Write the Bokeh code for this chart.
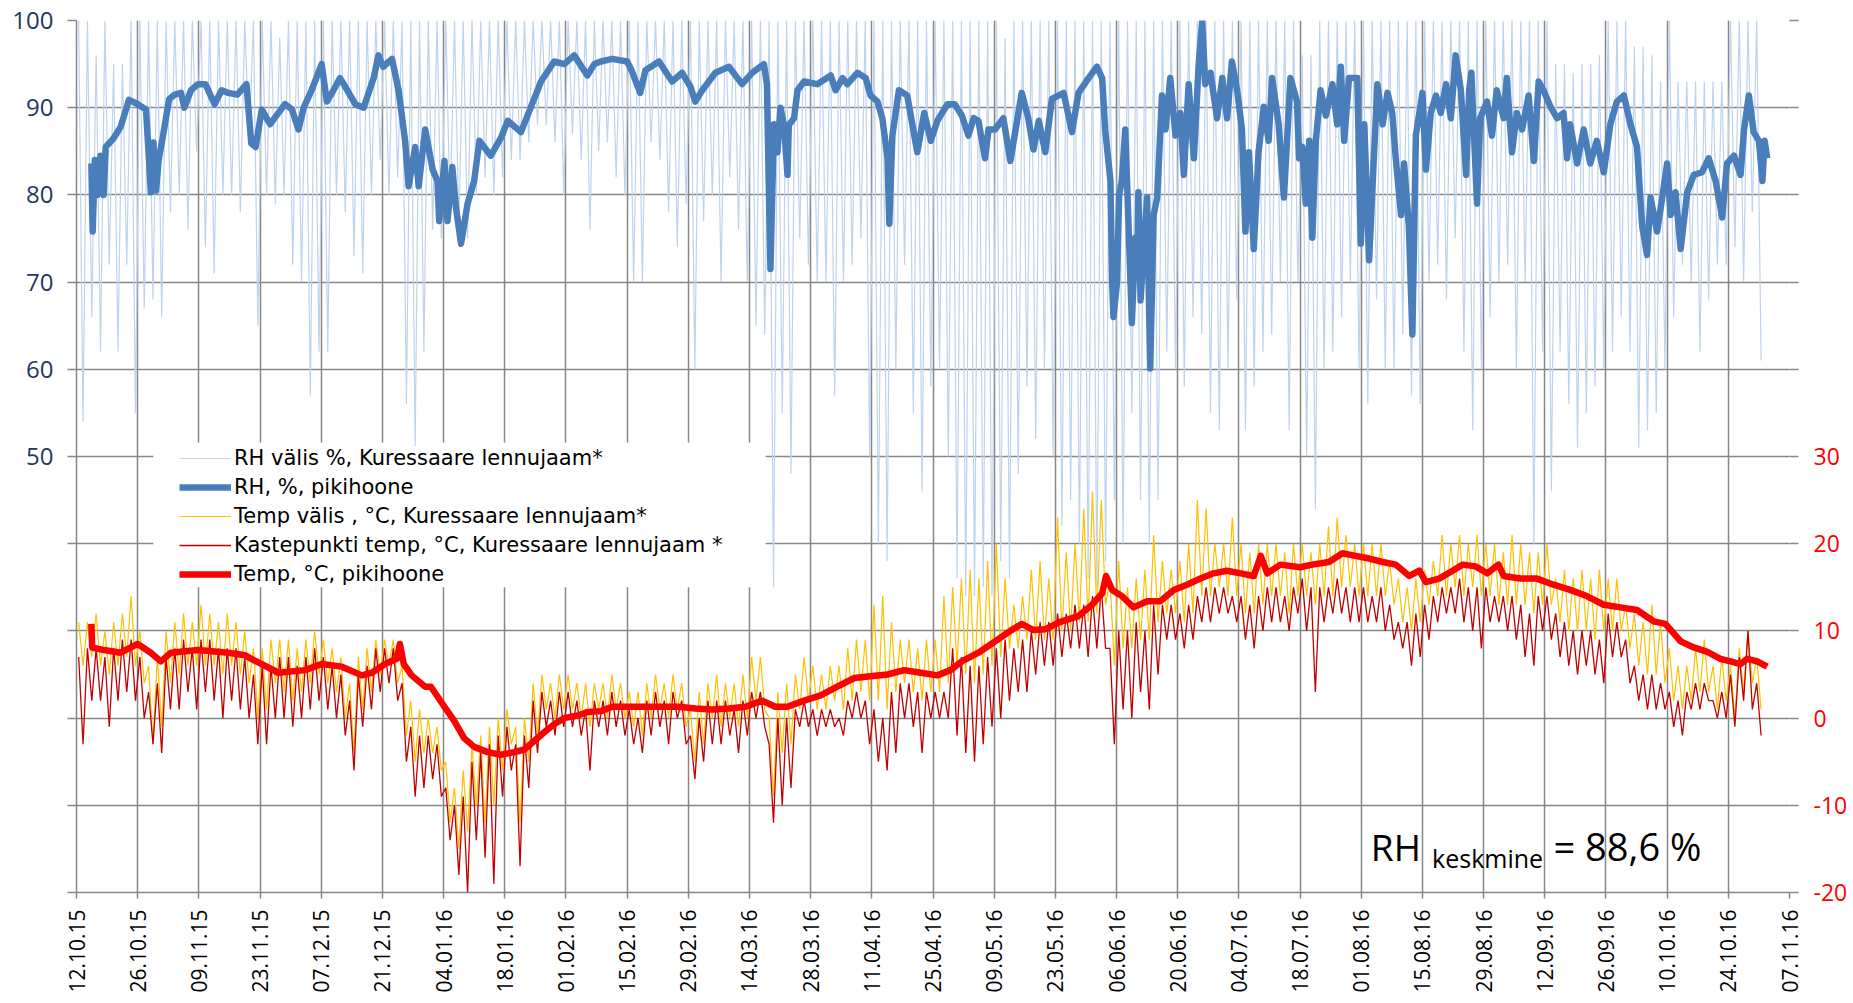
import math
from bokeh.plotting import figure
from bokeh.models import (Range1d, LinearAxis, FixedTicker, Legend, LegendItem,
                          Label, BoxAnnotation)
from bokeh.embed import file_html
from bokeh.resources import INLINE

# ---------------- data (x = days since 12.10.2015) ----------------
tick_days = [0, 14, 28, 42, 56, 70, 84, 98, 112, 126, 140, 154, 168, 182, 196,
             210, 224, 238, 252, 266, 280, 294, 308, 322, 336, 350, 364, 378, 392]
tick_labels = ["12.10.15", "26.10.15", "09.11.15", "23.11.15", "07.12.15", "21.12.15",
               "04.01.16", "18.01.16", "01.02.16", "15.02.16", "29.02.16", "14.03.16",
               "28.03.16", "11.04.16", "25.04.16", "09.05.16", "23.05.16", "06.06.16",
               "20.06.16", "04.07.16", "18.07.16", "01.08.16", "15.08.16", "29.08.16",
               "12.09.16", "26.09.16", "10.10.16", "24.10.16", "07.11.16"]

# outdoor series: 2-day bins (bin i = days 2i..2i+2), high / low
rh_out_max = [100,100,96,100,95,95,100,100,100,100,100,100,100,100,100,100,100,100,100,100,
              100,100,100,98,100,100,100,100,100,100,100,100,100,100,100,100,100,100,100,100,
              100,100,100,100,100,100,100,100,100,100,100,100,100,100,100,100,100,100,100,100,
              100,100,100,100,100,100,100,100,100,100,100,100,100,100,100,100,100,100,100,100,
              100,100,100,100,100,100,100,100,100,100,100,100,100,100,100,100,100,100,100,100,
              100,100,100,100,100,100,98,100,100,100,100,100,100,100,100,100,100,100,100,100,
              100,100,100,100,100,100,100,100,100,100,100,100,100,100,100,100,100,100,100,100,
              96,96,100,100,100,100,100,100,100,100,100,100,100,100,100,100,100,100,100,100,
              100,100,100,100,100,100,100,100,100,95,95,94,95,95,96,100,100,100,97,97,
              96,93,100,93,93,93,93,93,93,100,100,100,100]
rh_out_min = [54,66,62,72,62,72,55,67,68,66,78,80,76,85,74,71,80,80,78,86,
              65,80,79,80,72,70,57,62,62,80,78,73,71,80,84,80,82,56,51,62,
              76,75,78,76,75,80,82,80,82,84,84,86,88,88,86,80,87,84,76,85,
              86,82,80,70,70,86,84,78,74,79,60,77,80,70,82,76,70,65,64,35,
              55,48,75,72,70,70,57,70,72,75,50,40,38,60,72,55,46,58,60,50,
              36,34,34,35,34,38,36,48,58,52,60,50,42,45,40,36,35,38,45,40,
              55,45,40,45,62,60,58,66,64,55,53,60,68,53,58,62,64,70,53,70,
              50,44,60,62,66,70,60,56,68,60,60,64,57,56,70,72,68,75,62,53,
              60,66,70,72,60,70,40,62,46,62,56,51,55,58,60,62,66,62,51,53,
              55,60,66,72,70,62,68,72,72,74,70,78,61]

temp_out_hi = [11,11,12,10,11,12,14,10,6,7,10,11,12,11,13,12,11,12,11,10,
               8,8,9,9,9,8,9,10,9,8,7,4,7,8,9,9,9,6,2,1,
               0,-1,-5,-8,-6,-3,-2,-1,0,1,-1,0,4,5,4,5,5,4,4,4,
               4,5,4,3,3,4,5,4,5,4,1,3,4,5,4,4,5,7,7,0,
               3,4,5,7,6,5,6,6,8,9,9,13,14,11,9,9,8,9,9,14,
               15,16,17,16,18,20,16,13,14,17,18,16,23,19,20,24,26,25,16,18,
               15,16,17,21,18,17,18,20,25,24,20,20,23,20,19,20,20,20,19,20,
               20,19,20,22,23,21,20,20,20,20,18,16,15,16,17,18,21,20,21,20,
               21,20,20,19,21,20,19,19,20,16,17,16,17,16,17,16,16,13,12,11,
               13,11,8,6,6,8,9,6,7,6,8,10,7]
temp_out_lo = [6,7,6,5,6,7,6,4,-3,-1,4,5,6,6,6,6,5,6,5,4,
               0,1,4,3,2,3,4,5,4,3,0,-4,1,3,5,6,4,-2,-5,-4,
               -4,-6,-12,-15,-13,-10,-12,-10,-6,-3,-12,-5,-2,1,0,1,1,0,-1,1,
               0,1,0,-1,-2,0,1,0,1,-1,-5,-3,0,-1,0,-1,0,2,1,-9,
               -4,-3,1,2,1,1,2,1,2,3,2,2,1,3,4,3,2,3,3,4,
               6,5,4,5,6,7,8,8,9,9,9,9,10,10,11,11,12,13,6,8,
               8,9,9,11,12,12,11,12,14,14,15,14,14,12,12,13,14,14,12,14,
               14,13,14,14,15,15,14,14,14,14,13,11,10,11,13,14,14,15,14,15,
               14,14,13,13,13,13,12,13,13,11,10,10,10,9,10,10,10,8,6,5,
               5,4,2,1,2,3,3,1,2,0,3,4,1]
dew_hi = [7,8,8,7,8,9,9,7,3,4,7,8,9,8,9,9,8,8,8,7,
          5,6,6,7,7,6,7,8,7,6,5,2,5,6,8,8,8,4,-1,-2,
          -2,-3,-8,-10,-9,-5,-4,-3,-2,-1,-3,-2,2,3,2,3,3,2,1,2,
          2,3,2,1,0,2,3,2,3,2,-2,0,2,2,2,1,2,3,3,-3,
          0,0,1,2,1,1,1,0,2,3,2,1,0,3,4,4,3,3,3,3,
          8,7,6,6,7,8,9,8,9,10,11,11,12,12,13,13,14,15,8,10,
          10,11,10,13,13,13,12,13,14,15,15,15,14,14,13,14,15,15,14,15,
          16,15,15,15,16,15,15,15,14,15,13,11,11,12,13,14,15,15,16,15,
          15,15,14,14,14,13,12,14,14,12,11,10,10,10,9,12,11,9,6,5,
          5,4,3,2,3,4,4,2,3,5,7,10,4]
dew_lo = [-3,2,2,-1,2,3,2,0,-3,-4,1,1,3,1,3,2,0,2,1,0,
          -3,-3,0,0,-1,0,1,2,1,0,-2,-6,-1,1,3,4,2,-5,-9,-8,
          -7,-9,-14,-18,-20,-14,-16,-19,-9,-6,-17,-8,-4,-1,-2,-1,-1,-2,-6,-1,
          -2,-1,-2,-3,-4,-2,-1,-3,0,-3,-7,-5,-3,-3,-2,-4,-2,0,-1,-12,
          -10,-8,-1,-1,-2,-1,-1,-2,0,0,-3,-5,-6,-4,0,-1,-4,0,0,0,
          -2,-4,-5,-3,-1,0,2,3,3,5,6,6,7,8,8,7,8,8,-3,1,
          0,3,1,5,9,9,8,9,11,11,12,12,11,9,8,10,11,11,10,12,
          10,3,11,12,12,11,11,11,11,10,9,8,6,7,9,11,12,12,11,10,
          8,11,11,10,9,7,6,10,9,7,6,5,6,5,4,7,7,4,2,1,
          1,1,-1,-2,1,1,2,0,0,-1,2,1,-2]

# indoor (pikihoone) series: day / value pairs
rh_pik_day = [3.4,3.7,4.2,4.8,5.5,6.2,6.7,8.5,10.1,12.0,14.0,15.9,16.6,17.0,17.6,18.2,18.8,19.7,21.2,22.5,
              23.9,24.7,26.2,27.8,29.5,31.6,33.2,34.7,36.8,38.9,40.0,41.0,42.4,44.3,46.2,47.7,49.3,50.8,52.0,53.8,
              56.1,57.3,58.8,60.3,61.5,63.8,65.7,68.0,69.1,70.2,72.2,73.7,75.2,76.0,77.5,78.3,79.8,81.5,82.6,83.0,
              84.2,84.9,86.0,86.8,88.0,89.5,91.0,92.2,94.8,97.1,98.7,101.7,104.0,106.3,109.3,111.6,113.9,116.9,118.5,120.0,
              122.6,126.0,127.0,129.0,130.2,133.3,136.3,138.6,140.5,141.6,143.2,146.2,149.3,152.3,154.6,157.3,158.0,158.4,158.8,159.6,
              160.4,161.1,161.9,162.7,163.0,164.2,165.0,166.5,169.5,172.6,173.7,175.3,176.4,178.7,180.6,181.7,183.3,184.4,185.6,186.0,
              186.7,188.2,190.1,192.4,194.0,195.5,197.0,199.3,201.0,202.6,204.1,205.3,206.4,207.9,208.7,210.2,212.1,213.7,214.8,216.3,
              217.8,219.0,220.2,221.7,223.2,225.9,227.8,229.3,231.6,233.5,234.7,235.4,236.6,237.0,237.3,238.1,238.6,239.2,240.0,240.4,
              241.2,241.5,242.3,242.7,243.0,243.5,244.2,245.0,245.7,246.5,247.3,248.4,249.2,250.3,251.5,252.6,253.4,254.5,255.7,256.8,
              257.6,258.3,259.5,261.0,262.2,263.3,264.4,265.6,266.7,267.5,268.3,269.4,270.5,271.7,272.8,273.6,275.1,276.3,277.8,279.3,
              279.8,280.5,281.3,282.1,282.8,283.6,284.7,285.9,287.4,288.5,289.3,290.1,291.2,293.1,293.9,294.7,295.8,297.0,297.7,298.9,
              300.0,301.1,301.9,303.1,303.8,304.9,305.7,306.5,308.0,308.8,309.9,311.1,312.2,313.4,314.5,315.6,316.8,318.0,318.7,319.2,
              319.7,320.5,321.2,322.8,323.9,325.0,326.6,327.3,328.5,329.6,330.8,332.3,333.5,334.6,335.7,337.3,338.8,340.3,341.1,341.8,
              343.4,344.9,346.4,347.9,349.5,351.0,352.5,354.1,355.6,357.1,358.3,359.4,360.2,361.7,362.5,364.0,364.8,365.9,367.1,368.6,
              370.1,372.0,373.5,375.1,376.6,377.7,379.3,380.8,381.6,382.7,383.8,385.0,385.8,386.3,386.9]
rh_pik_val = [83.6,75.8,84,80,84.5,80,85.5,86.5,87.8,90.9,90.4,89.8,84,80.3,86,80.5,84,86.5,91,91.5,
              91.7,90,92,92.7,92.7,90.4,92,91.7,91.5,92.7,85.9,85.5,89.8,88.1,89.4,90.4,89.8,87.5,90,92,
              95,90.7,92,93.4,92.4,90.4,90,93.4,96,94.7,95.6,92,86.2,81,85.5,81,87.5,82.9,81.6,77,
              83.9,77,83.2,78.7,74.4,79,81.6,86.2,84.5,86.5,88.5,87.2,90.1,93,95.3,95,96,93.7,95,95.3,
              95.6,95.3,94.3,91.7,94.3,95.3,93,94,92.4,90.7,92,94,94.7,92.7,94,95,92.7,81.6,71.5,88.1,
              84.9,90,88,82.3,88,88.8,92,93,92.7,93.7,92,93.4,92.7,94,93.4,91.4,90.7,88.8,84.2,76.7,
              86.8,92,91.4,84.9,89.4,86.2,88.5,90.4,90.4,89.1,86.8,88.8,88.5,84.2,87.5,87.5,88.8,83.9,87.2,91.7,
              88.8,85.2,88.5,84.9,91,91.7,87.2,91.7,93.4,94.7,93.4,87.5,81.6,69.9,66,69.9,80,81.6,87.5,81.6,
              69.9,65.3,75.1,71.2,80.3,67.9,73.8,79.7,60.1,77.7,79.7,91.4,87.5,93.4,86.8,89.4,82.3,92.7,84.2,95,
              99.9,92.7,94,88.8,93.4,88.8,95.3,92,87.5,75.8,84.9,73.8,84.9,90.1,86.2,93.4,88.1,79.7,93.4,90.7,
              84.2,85.5,79,86.2,75.1,86.2,92,89.1,92.7,88.1,94.7,86.2,93.4,93.4,74.4,88.1,72.5,85.5,92.7,88.1,
              91.7,89.4,84.2,77.7,83.6,76.4,64,86.8,91.7,82.9,89.4,91.4,89.4,92.7,88.8,96,92,82.3,92,94,
              88.1,79,88.8,90.7,86.8,92,88.8,93.4,84.9,89.4,87.5,91.4,83.9,93,92,90.1,88.8,89.4,84.2,88.1,
              83.6,87.5,83.6,86.2,82.6,88.1,90.7,91.4,88.1,85.5,76.4,73.1,79.7,75.8,78.4,83.6,77.7,80.3,73.8,80.3,
              82.3,82.6,84.2,81.6,77.4,83.6,84.5,82.3,87.5,91.4,87.2,86.2,81.6,86.2,84.2]

temp_pik_day = [3.4,3.6,6.3,10.1,14.0,17.0,19.3,21.6,27.8,34.7,38.6,40.0,46.2,52.3,56.1,60.7,65.3,67.6,70.6,73.3,
                74.0,74.9,76.7,79.8,81.1,84.2,86.4,88.7,91.0,94.1,97.1,100.2,102.5,104.8,107.1,109.3,111.6,114.7,117.0,120.0,
                122.6,126.4,130.2,134.0,137.8,141.6,145.4,149.3,153.1,156.9,159.9,162.7,166.5,170.3,174.1,178.0,181.7,185.6,189.4,193.2,
                197.0,200.0,202.6,206.4,210.2,214.0,216.3,219.0,221.7,225.5,229.3,232.4,234.7,235.6,237.0,239.2,241.9,245.0,248.0,251.1,
                254.1,257.2,260.2,263.3,266.4,269.4,271.0,272.5,275.5,280.0,282.8,286.6,289.7,292.7,295.8,298.9,301.9,305.0,307.3,308.8,
                311.8,314.9,317.2,320.2,322.8,325.4,326.6,330.4,334.2,338.0,341.8,345.6,349.5,353.3,357.1,360.9,363.6,367.1,370.1,373.2,
                376.2,378.5,380.8,382.3,384.6,386.9]
temp_pik_val = [10.8,8.1,7.8,7.5,8.5,7.5,6.5,7.5,7.8,7.5,7.2,6.8,5.2,5.5,6.2,5.9,4.9,5.2,6.2,6.8,
                8.5,6.2,4.9,3.6,3.6,1.3,-0.3,-2.3,-3.3,-3.9,-4.2,-3.9,-3.6,-2.6,-1.6,-0.7,0,0.3,0.7,0.8,
                1.3,1.3,1.3,1.3,1.3,1.1,1.0,1.1,1.3,2.0,1.3,1.3,2.0,2.6,3.6,4.6,4.8,5.0,5.5,5.2,
                4.9,5.5,6.5,7.5,8.8,10.1,10.8,10.1,10.2,11.1,11.7,13.0,14.3,16.3,14.7,14.0,12.7,13.4,13.4,14.7,
                15.3,16.0,16.6,16.9,16.6,16.3,18.6,16.6,17.6,17.3,17.6,17.9,18.9,18.6,18.3,17.9,17.6,16.3,16.9,15.6,
                16.0,16.9,17.6,17.4,16.6,17.6,16.3,16.0,16.0,15.3,14.7,14.0,13.0,12.7,12.4,11.1,10.8,8.8,8.1,7.6,
                6.8,6.5,6.2,6.8,6.5,5.9]

legend_labels = ["RH välis %, Kuressaare lennujaam*", "RH, %, pikihoone",
                 "Temp välis , °C, Kuressaare lennujaam*",
                 "Kastepunkti temp, °C, Kuressaare lennujaam *", "Temp, °C, pikihoone"]


def zigzag(hi, lo):
    xs, ys = [], []
    for i, (h, l) in enumerate(zip(hi, lo)):
        xs += [2 * i + 0.5, 2 * i + 1.5]
        ys += [h, l]
    return xs, ys


FONT = "Open Sans"
LEG_FONT = "DejaVu Sans"
GRID = "#868686"

p = figure(width=1850, height=1000, output_backend="svg", toolbar_location=None,
           x_range=Range1d(0, 392), y_range=Range1d(0, 100),
           min_border_left=76, min_border_right=60, min_border_top=20, min_border_bottom=108)
p.outline_line_color = None
p.background_fill_color = "white"
p.extra_y_ranges = {"t": Range1d(-20, 80)}

# white legend panel (hides grid behind legend)
p.add_layout(BoxAnnotation(left=17.6, right=157.7, bottom=35.0, top=51.6,
                           fill_color="white", fill_alpha=1.0, line_color=None, level="underlay"))

x1, y1 = zigzag(rh_out_max, rh_out_min)
r1 = p.line(x1, y1, line_color="#BED3EE", line_width=1.2)
r2 = p.line(rh_pik_day, rh_pik_val, line_color="#4A7EBB", line_width=6.5, line_join="round")
x3, y3 = zigzag(temp_out_hi, temp_out_lo)
r3 = p.line(x3, y3, line_color="#FFC000", line_width=1.2, y_range_name="t")
x4, y4 = zigzag(dew_hi, dew_lo)
r4 = p.line(x4, y4, line_color="#C00000", line_width=1.3, y_range_name="t")
r5 = p.line(temp_pik_day, temp_pik_val, line_color="#FF0000", line_width=6.5,
            line_join="round", y_range_name="t")

# axes
xa = p.xaxis[0]
xa.ticker = FixedTicker(ticks=tick_days)
xa.major_label_overrides = {d: lab for d, lab in zip(tick_days, tick_labels)}
xa.major_label_orientation = math.pi / 2
xa.major_label_text_font = FONT
xa.major_label_text_font_size = "21px"
xa.major_label_text_color = "black"
xa.major_label_standoff = 11
xa.axis_line_color = GRID
xa.axis_line_width = 1.5
xa.major_tick_line_color = GRID
xa.major_tick_line_width = 1.5
xa.major_tick_in = 0
xa.major_tick_out = 6
xa.minor_tick_line_color = None

left_ticks = [0, 10, 20, 30, 40, 50, 60, 70, 80, 90, 100]
ya = p.yaxis[0]
ya.ticker = FixedTicker(ticks=left_ticks)
ya.major_label_overrides = {v: ("" if v < 50 else str(v)) for v in left_ticks}
ya.major_label_text_font = FONT
ya.major_label_text_font_size = "24px"
ya.major_label_text_color = "#1F3864"
ya.major_label_standoff = 14
ya.axis_line_color = GRID
ya.axis_line_width = 1.5
ya.major_tick_line_color = GRID
ya.major_tick_line_width = 1.5
ya.major_tick_in = 0
ya.major_tick_out = 9
ya.minor_tick_line_color = None

right_ticks = [-20, -10, 0, 10, 20, 30, 40, 50, 60, 70, 80]
ra = LinearAxis(y_range_name="t", ticker=FixedTicker(ticks=right_ticks))
ra.major_label_overrides = {v: ("" if v > 30 else str(v)) for v in right_ticks}
ra.major_label_text_font = FONT
ra.major_label_text_font_size = "23px"
ra.major_label_text_color = "#FF0000"
ra.major_label_standoff = 15
ra.axis_line_color = None
ra.major_tick_line_color = GRID
ra.major_tick_line_width = 1.5
ra.major_tick_in = 0
ra.major_tick_out = 9
ra.minor_tick_line_color = None
p.add_layout(ra, "right")

p.xgrid.grid_line_color = GRID
p.xgrid.grid_line_width = 1.5
p.ygrid.grid_line_color = GRID
p.ygrid.grid_line_width = 1.5

# one single-entry legend per row, so the row pitch matches the original
legend_rows_y = [422, 393, 364, 335, 306]
for lab, r, ly in zip(legend_labels, [r1, r2, r3, r4, r5], legend_rows_y):
    lg = Legend(items=[LegendItem(label=lab, renderers=[r])], location=(103, ly))
    lg.background_fill_color = "white"
    lg.background_fill_alpha = 1.0
    lg.border_line_color = None
    lg.label_text_font = LEG_FONT
    lg.label_text_font_size = "21px"
    lg.label_text_color = "black"
    lg.glyph_width = 52
    lg.glyph_height = 24
    lg.label_height = 24
    lg.label_standoff = 3
    lg.padding = 2
    lg.margin = 0
    p.add_layout(lg)

# annotation text
p.add_layout(Label(x=296.2, y=5.3, text="RH", text_font=FONT, text_font_size="37px",
                   text_color="black", text_baseline="alphabetic"))
p.add_layout(Label(x=310.2, y=4.0, text="keskmine", text_font=FONT, text_font_size="25px",
                   text_color="black", text_baseline="alphabetic"))
p.add_layout(Label(x=338.0, y=5.3, text="= 88,6 %", text_font=FONT, text_font_size="38px",
                   text_color="black", text_baseline="alphabetic"))

open("out.html", "w").write(file_html(p, INLINE))
